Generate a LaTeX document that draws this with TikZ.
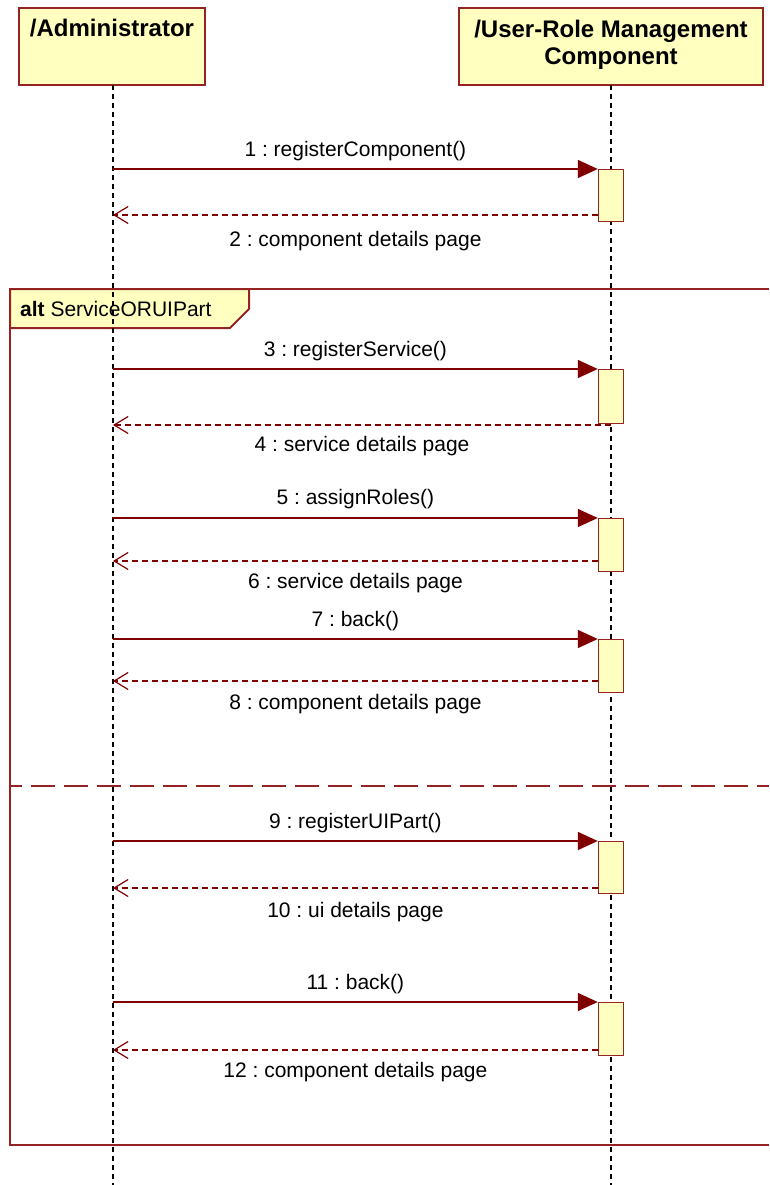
\documentclass[tikz,border=0pt]{standalone}
\usepackage{fontspec}
\setmainfont{Liberation Sans}
\usetikzlibrary{arrows.meta}
\definecolor{umlred}{RGB}{128,0,0}
\definecolor{umlborder}{RGB}{150,35,35}
\definecolor{umlfill}{RGB}{255,255,192}
\begin{document}
\begin{tikzpicture}[x=1pt,y=-1pt,
  headbox/.style={draw=umlborder, line width=1.6pt, fill=umlfill, minimum height=77pt, inner sep=0pt},
  headtext/.style={font=\fontsize{24}{27}\selectfont\bfseries, align=center, inner sep=0pt},
  lifeline/.style={draw=black, line width=1.2pt, dash pattern=on 5pt off 4pt},
  actbox/.style={draw=umlborder, line width=1.4pt, fill=umlfill, minimum width=25pt, anchor=north, inner sep=0pt},
  call/.style={draw=umlred, line width=1.5pt, -{Triangle[length=20pt,width=18pt]}},
  ret/.style={draw=umlred, line width=1.5pt, dash pattern=on 6pt off 4pt, -{Straight Barb[length=14pt,width=17pt,line width=1.2pt]}},
  msg/.style={font=\fontsize{21}{25}\selectfont\frenchspacing, inner sep=2pt, text=black},
  frameline/.style={draw=umlborder, line width=2pt}
]
\useasboundingbox (0,0) rectangle (769,1185);

% combined fragment "alt"
\draw[frameline] (769,289) -- (10,289) -- (10,1145) -- (769,1145);
\draw[frameline, fill=umlfill] (10,289) -- (249,289) -- (249,309) -- (230,328) -- (10,328) -- cycle;
\node[msg, anchor=base west, inner sep=0pt] (guard) at (20,316) {\textbf{alt} ServiceORUIPart};
\draw[draw=umlborder, line width=2pt, dash pattern=on 24pt off 9pt, dash phase=12pt] (10,786) -- (769,786);

% lifeline heads
\node[headbox, minimum width=186pt] (adm) at (112,46.5) {};
\node[headbox, minimum width=304pt] (urm) at (611,46.5) {};
\node[headtext, anchor=base] (admT) at (112,37) {/Administrator};
\node[headtext, anchor=north] (urmT) at (611,19.5) {/User-Role Management\\Component};

% lifelines
\coordinate (admEnd) at (113,1185);
\coordinate (urmEnd) at (611,1185);
\draw[lifeline] (113,85) -- (admEnd);
\draw[lifeline] (611,85) -- (urmEnd);

% activation bars
\node[actbox, minimum height=52pt] (a1) at (611,169) {};
\node[actbox, minimum height=54pt] (a3) at (611,369) {};
\node[actbox, minimum height=53pt] (a5) at (611,518) {};
\node[actbox, minimum height=53pt] (a7) at (611,639) {};
\node[actbox, minimum height=52pt] (a9) at (611,841) {};
\node[actbox, minimum height=53pt] (a11) at (611,1002) {};

% messages
\draw[call] (admEnd |- a1.north) -- node[msg, midway, above=5pt] (m1) {1 : registerComponent()} (a1.north west);
\draw[ret] (a1.west |- {(0,215)}) -- node[msg, midway, below=14pt] (m2) {2 : component details page} (admEnd |- {(0,215)});

\draw[call] (admEnd |- a3.north) -- node[msg, midway, above=5pt] (m3) {3 : registerService()} (a3.north west);
\draw[ret] (a3.south |- {(0,425)}) -- node[msg, midway, below=9pt] (m4) {4 : service details page} (admEnd |- {(0,425)});

\draw[call] (admEnd |- a5.north) -- node[msg, midway, above=6pt] (m5) {5 : assignRoles()} (a5.north west);
\draw[ret] (a5.west |- {(0,561)}) -- node[msg, midway, below=10pt] (m6) {6 : service details page} (admEnd |- {(0,561)});

\draw[call] (admEnd |- a7.north) -- node[msg, midway, above=5pt] (m7) {7 : back()} (a7.north west);
\draw[ret] (a7.west |- {(0,681)}) -- node[msg, midway, below=11pt] (m8) {8 : component details page} (admEnd |- {(0,681)});

\draw[call] (admEnd |- a9.north) -- node[msg, midway, above=5pt] (m9) {9 : registerUIPart()} (a9.north west);
\draw[ret] (a9.west |- {(0,888)}) -- node[msg, midway, below=12pt] (m10) {10 : ui details page} (admEnd |- {(0,888)});

\draw[call] (admEnd |- a11.north) -- node[msg, midway, above=5pt] (m11) {11 : back()} (a11.north west);
\draw[ret] (a11.west |- {(0,1050)}) -- node[msg, midway, below=10pt] (m12) {12 : component details page} (admEnd |- {(0,1050)});
\end{tikzpicture}
\end{document}
